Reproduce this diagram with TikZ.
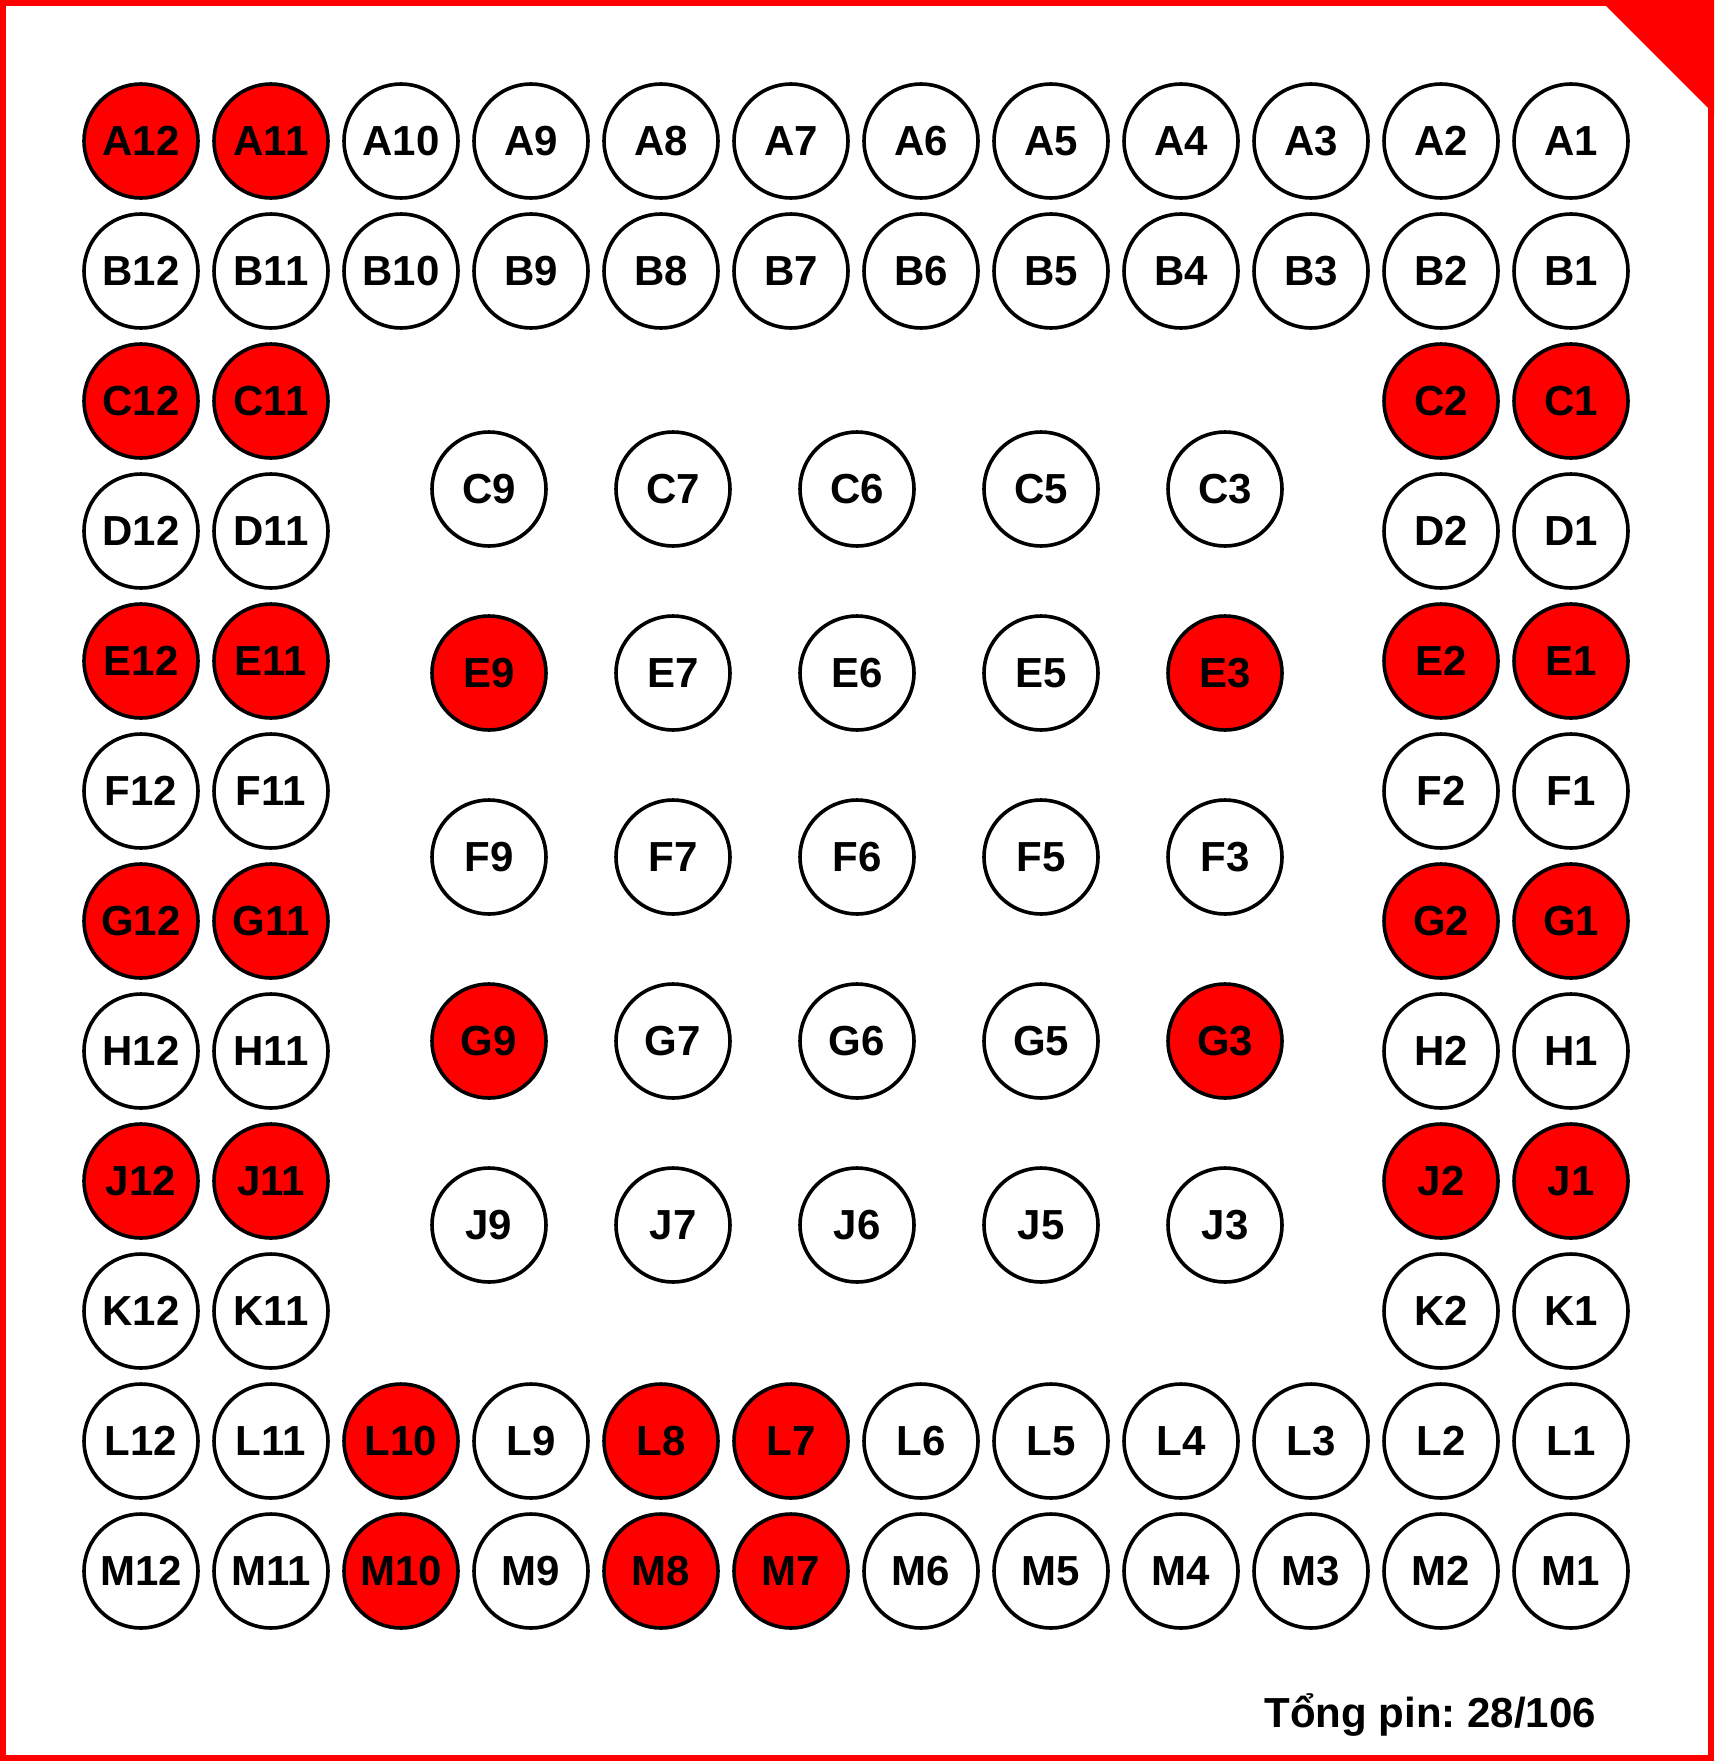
\documentclass[tikz,border=0pt]{standalone}
\usepackage{fontspec}
\setmainfont{Liberation Sans}
\frenchspacing
\begin{document}
\begin{tikzpicture}[x=1pt,y=-1pt,
  pin/.style={circle,draw=black,line width=3.6pt,minimum size=114pt,inner sep=0pt,
    font=\fontsize{42}{48}\selectfont\bfseries,text=black},
  frame/.style={draw=red,line width=6pt}]
\useasboundingbox (0,0) rectangle (1714,1761);
\fill[white] (0,0) rectangle (1714,1761);
\draw[frame] (3,3) rectangle (1711,1758);
\fill[red] (1600,0) -- (1714,0) -- (1714,114) -- cycle;
% full outer rows
\foreach \r/\y/\cols in {
  A/141/{12/red,11/red,10/white,9/white,8/white,7/white,6/white,5/white,4/white,3/white,2/white,1/white},
  B/271/{12/white,11/white,10/white,9/white,8/white,7/white,6/white,5/white,4/white,3/white,2/white,1/white},
  L/1441/{12/white,11/white,10/red,9/white,8/red,7/red,6/white,5/white,4/white,3/white,2/white,1/white},
  M/1571/{12/white,11/white,10/red,9/white,8/red,7/red,6/white,5/white,4/white,3/white,2/white,1/white}}
{
  \foreach \c/\fc in \cols {
    \node[pin,fill=\fc] (o\r\c) at ({141+(12-\c)*130},\y) {\r\c};
  }
}
% side rows
\foreach \r/\y/\fc in {C/401/red,D/531/white,E/661/red,F/791/white,G/921/red,H/1051/white,J/1181/red,K/1311/white}
{
  \foreach \c in {12,11,2,1} {
    \node[pin,fill=\fc] (o\r\c) at ({141+(12-\c)*130},\y) {\r\c};
  }
}
% inner grid
\foreach \r/\y/\cols in {
  C/489/{9/489/white,7/673/white,6/857/white,5/1041/white,3/1225/white},
  E/673/{9/489/red,7/673/white,6/857/white,5/1041/white,3/1225/red},
  F/857/{9/489/white,7/673/white,6/857/white,5/1041/white,3/1225/white},
  G/1041/{9/489/red,7/673/white,6/857/white,5/1041/white,3/1225/red},
  J/1225/{9/489/white,7/673/white,6/857/white,5/1041/white,3/1225/white}}
{
  \foreach \c/\x/\fc in \cols {
    \node[pin,fill=\fc] (i\r\c) at (\x,\y) {\r\c};
  }
}
\node[anchor=base east,font=\fontsize{42}{48}\selectfont\bfseries,inner sep=0pt] (total) at (1596,1727) {Tổng pin: 28/106};
\end{tikzpicture}
\end{document}
